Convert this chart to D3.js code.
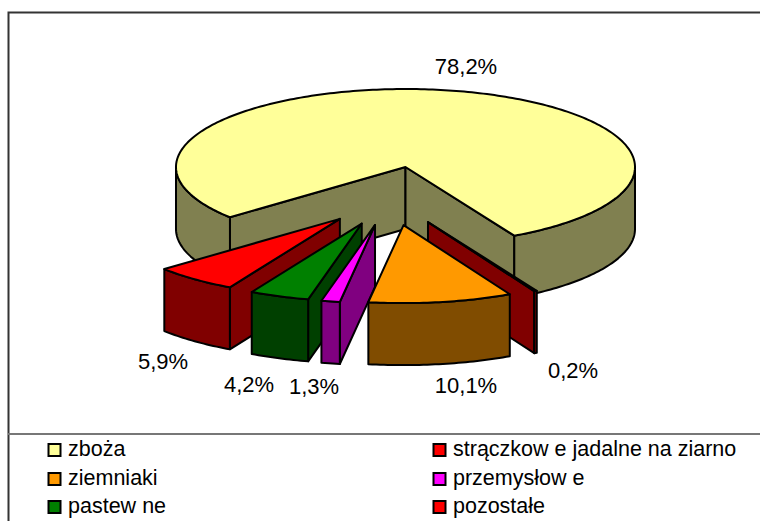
<!DOCTYPE html>
<html>
<head>
<meta charset="utf-8">
<script src="https://cdn.jsdelivr.net/npm/d3@7"></script>
<style>
  html, body { margin: 0; padding: 0; background: #fff; }
  text { font-family: "Liberation Sans", Arial, sans-serif; fill: #000; }
</style>
</head>
<body>
<div id="chart"></div>
<script>
// chart values, in legend order
const categories = ["zboża", "strączkowe jadalne na ziarno", "ziemniaki", "przemysłowe", "pastewne", "pozostałe"];
const shares = [78.2, 5.9, 10.1, 1.3, 4.2, 0.2];
const labels = ["78,2%", "5,9%", "10,1%", "1,3%", "4,2%", "0,2%"];
const topColors = ["#ffff99", "#ff0000", "#ff9900", "#ff00ff", "#008000", "#ff0000"];
const wallColors = ["#808050", "#800000", "#804c00", "#800080", "#004000", "#800000"];

// clockwise order of the slices round the pie, and the back-to-front order to paint them
const clockwise = [0, 5, 2, 3, 4, 1];
const paintOrder = [0, 1, 4, 3, 5, 2];

const width = 760, height = 521;
const DEG = Math.PI / 180;

// pie geometry
const pieX = 390.5, pieY = 196;
const radiusX = 229.5, radiusY = 78;
const explodeX = 80, explodeY = 29.5;
const depth = 62;
const startDeg = 229.9;

// label anchors, same order as categories
const labelPos = [[466, 74], [163, 369], [466, 393], [314, 394], [249, 392], [573, 378]];

const svg = d3.select("#chart").append("svg")
  .attr("width", width)
  .attr("height", height)
  .style("display", "block");

// frame: no right or bottom edge, it runs off the page
svg.append("path")
  .attr("d", `M8.5,${height} V12.5 H${width}`)
  .attr("fill", "none")
  .attr("stroke", "#333")
  .attr("stroke-width", 2);
svg.append("line")
  .attr("x1", 8).attr("x2", width)
  .attr("y1", 434).attr("y2", 434)
  .attr("stroke", "#777")
  .attr("stroke-width", 2);

const ux = d3.scaleLinear().domain([-1, 1]).range([-radiusX, radiusX]);
const uy = d3.scaleLinear().domain([-1, 1]).range([-radiusY, radiusY]);

const pie = d3.pie()
  .sort(null)
  .value(i => shares[i])
  .startAngle(startDeg * DEG)
  .endAngle((startDeg + 360) * DEG);

const arcsByCategory = {};
pie(clockwise).forEach(a => { arcsByCategory[a.data] = a; });

const polygon = d3.line().x(d => d[0]).y(d => d[1]);

// apex of a slice once exploded along its bisector
function apexOf(a) {
  const mid = (a.startAngle + a.endAngle) / 2;
  return [pieX + explodeX * Math.sin(mid), pieY - explodeY * Math.cos(mid)];
}

function rimPoints(apex, from, to) {
  const steps = Math.max(2, Math.ceil((to - from) / DEG));
  return d3.range(steps + 1).map(k => {
    const t = from + (to - from) * k / steps;
    return [apex[0] + ux(Math.sin(t)), apex[1] + uy(-Math.cos(t))];
  });
}

function drawPoly(points, fill) {
  svg.append("path")
    .attr("d", polygon(points) + "Z")
    .attr("fill", fill)
    .attr("stroke", "#000")
    .attr("stroke-width", 2)
    .attr("stroke-linejoin", "round");
}

// the wall under a piece of outline
function wall(points) {
  return points.concat(points.slice().reverse().map(p => [p[0], p[1] + depth]));
}

function appendSlice(i) {
  const a = arcsByCategory[i];
  const apex = apexOf(a);
  const rim = rimPoints(apex, a.startAngle, a.endAngle);

  // radial walls that face the viewer
  if (Math.sin(a.startAngle) < 0) drawPoly(wall([apex, rim[0]]), wallColors[i]);
  if (Math.sin(a.endAngle) > 0) drawPoly(wall([apex, rim[rim.length - 1]]), wallColors[i]);

  // outer wall, only the front half of the ellipse shows
  for (let turn = -1; turn <= 1; turn++) {
    const from = Math.max(a.startAngle, (90 + 360 * turn) * DEG);
    const to = Math.min(a.endAngle, (270 + 360 * turn) * DEG);
    if (to > from) drawPoly(wall(rimPoints(apex, from, to)), wallColors[i]);
  }

  drawPoly([apex].concat(rim), topColors[i]);
}

paintOrder.forEach(appendSlice);

// percentage labels
svg.selectAll("text.pct")
  .data(labels)
  .enter().append("text")
  .attr("class", "pct")
  .attr("x", (d, i) => labelPos[i][0])
  .attr("y", (d, i) => labelPos[i][1])
  .attr("text-anchor", "middle")
  .style("font-size", "22px")
  .text(d => d);

// legend, filled row by row in two columns
const colX = [48, 433];
const rowY = [456, 485, 513];

const legend = svg.selectAll("g.legend")
  .data(categories)
  .enter().append("g")
  .attr("class", "legend")
  .attr("transform", (d, i) => `translate(${colX[i % 2]},${rowY[Math.floor(i / 2)]})`);

legend.append("rect")
  .attr("x", 0.5).attr("y", -12)
  .attr("width", 12).attr("height", 12)
  .attr("fill", (d, i) => topColors[i])
  .attr("stroke", "#000")
  .attr("stroke-width", 2);

// the legend font leaves a wide gap after "w", a tspan keeps the word whole
legend.append("text")
  .attr("x", 20)
  .attr("y", 0)
  .style("font-size", "21.5px")
  .each(function(d) {
    const label = d3.select(this);
    const parts = d.split(/(?<=w)/);
    parts.forEach((part, k) => {
      label.append("tspan").attr("dx", k > 0 ? 6 : 0).text(part);
    });
  });
</script>
</body>
</html>
